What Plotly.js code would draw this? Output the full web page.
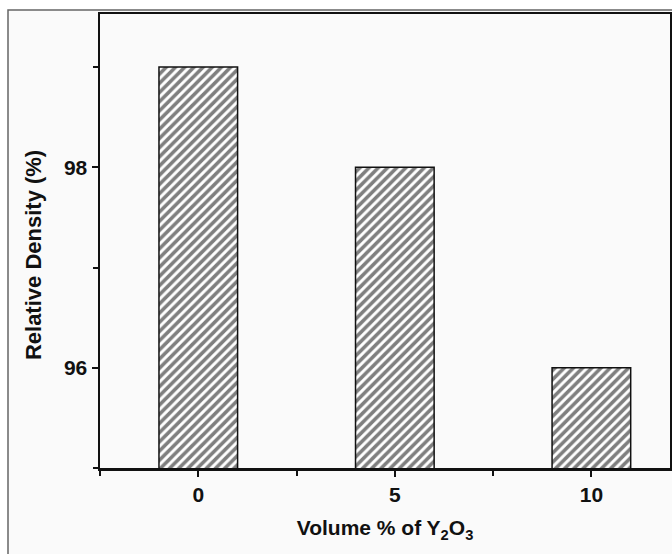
<!DOCTYPE html>
<html>
<head>
<meta charset="utf-8">
<script src="https://cdn.plot.ly/plotly-3.0.1.min.js"></script>
<style>html,body{margin:0;padding:0;background:#ffffff;}#chart{width:672px;height:554px;}</style>
</head>
<body>
<div id="chart"></div>
<script>
const volumePct = [0, 5, 10];
const relDensity = [99.0, 98.0, 96.0];
const xTickVals = [0, 5, 10];
const xTickText = ['0', '5', '10'];
const xMinorTicks = [-2.5, 2.5, 7.5];
const yTickVals = [96, 98];
const yTickText = ['96', '98'];
const yMinorTicks = [95, 97, 99];
const xTitle = 'Volume % of Y<sub>2</sub>O<sub>3</sub>';
const yTitle = 'Relative Density (%)';

const fam = 'Liberation Sans, Arial, sans-serif';

const trace = {
  type: 'bar',
  x: volumePct,
  y: relDensity,
  width: 2,
  marker: {
    color: '#ffffff',
    line: {color: '#111', width: 1.5},
    pattern: {shape: '/', size: 6.5, solidity: 0.55, fgcolor: '#000', bgcolor: '#ffffff', fillmode: 'overlay'}
  },
  hoverinfo: 'x+y'
};

const layout = {
  width: 672, height: 554,
  margin: {l: 100, r: 2, t: 14, b: 86},
  paper_bgcolor: '#ffffff',
  plot_bgcolor: 'rgba(0,0,0,0)',
  showlegend: false,
  font: {family: fam, color: '#111', size: 21},
  xaxis: {
    range: [-2.5, 12],
    tickmode: 'array', tickvals: xTickVals, ticktext: xTickText,
    ticks: 'outside', ticklen: 6, tickwidth: 2, tickcolor: '#111',
    minor: {tickmode: 'array', tickvals: xMinorTicks, ticks: 'outside', ticklen: 5, tickwidth: 2, tickcolor: '#111'},
    showline: true, linecolor: '#111', linewidth: 2.5, mirror: true,
    showgrid: false, zeroline: false,
    tickfont: {family: fam, size: 21, color: '#111', weight: 'bold'},
    title: {text: xTitle, font: {family: fam, size: 21, color: '#111', weight: 'bold'}, standoff: 16}
  },
  yaxis: {
    range: [95, 99.53],
    tickmode: 'array', tickvals: yTickVals, ticktext: yTickText,
    ticks: 'outside', ticklen: 6, tickwidth: 2, tickcolor: '#111',
    minor: {tickmode: 'array', tickvals: yMinorTicks, ticks: 'outside', ticklen: 5, tickwidth: 2, tickcolor: '#111'},
    showline: true, linecolor: '#111', linewidth: 2.5, mirror: true,
    showgrid: false, zeroline: false,
    tickfont: {family: fam, size: 21, color: '#111', weight: 'bold'}
  },
  annotations: [{
    text: yTitle, xref: 'paper', yref: 'paper', x: -0.1175, y: 0.469,
    xanchor: 'center', yanchor: 'middle', textangle: -90, showarrow: false,
    font: {family: fam, size: 22, color: '#111', weight: 'bold'}
  }],
  shapes: [{
    type: 'rect', xref: 'paper', yref: 'paper', layer: 'below',
    x0: -0.1614, x1: 1.03, y0: -0.21, y1: 1.0088,
    line: {color: '#666', width: 1.5}, fillcolor: '#fafafa'
  }]
};

Plotly.newPlot('chart', [trace], layout, {displayModeBar: false, staticPlot: true});
</script>
</body>
</html>
